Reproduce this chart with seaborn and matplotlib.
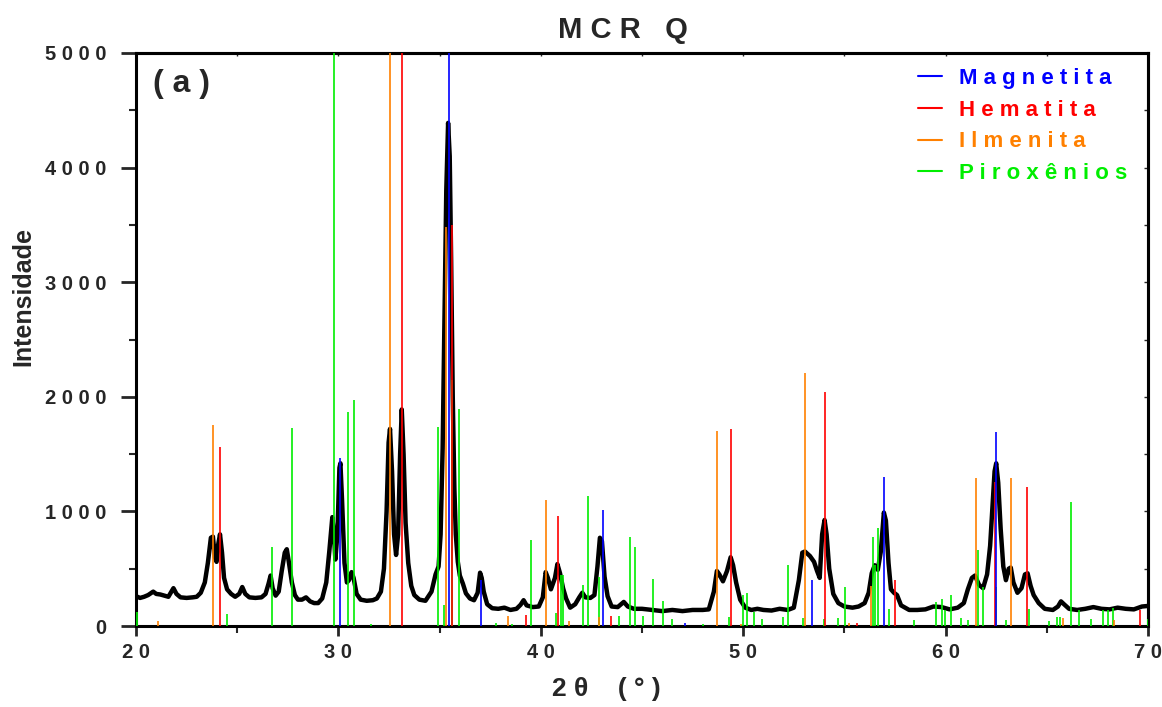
import matplotlib
matplotlib.use("Agg")
import matplotlib.pyplot as plt
import seaborn as sns
import pandas as pd
from matplotlib.lines import Line2D
from matplotlib.ticker import MultipleLocator

# ---- XRD pattern ----
two_theta = [20.0, 20.2, 20.4, 20.6, 20.85, 21.0, 21.2, 21.4, 21.6, 21.85, 22.0, 22.2, 22.5, 22.8,
             23.0, 23.2, 23.4, 23.55, 23.7, 23.8, 23.9, 23.98, 24.05, 24.15, 24.25, 24.35, 24.5,
             24.7, 24.9, 25.1, 25.25, 25.4, 25.6, 25.9, 26.2, 26.4, 26.55, 26.65, 26.75, 26.9,
             27.05, 27.2, 27.35, 27.45, 27.55, 27.7, 27.85, 28.0, 28.2, 28.4, 28.6, 28.8, 29.0,
             29.2, 29.4, 29.55, 29.7, 29.78, 29.85, 29.95, 30.05, 30.1, 30.18, 30.3, 30.42, 30.52,
             30.65, 30.75, 30.9, 31.1, 31.4, 31.7, 31.9, 32.1, 32.25, 32.38, 32.48, 32.55, 32.65,
             32.75, 32.85, 32.95, 33.05, 33.13, 33.22, 33.32, 33.45, 33.6, 33.75, 34.0, 34.3, 34.6,
             34.8, 34.95, 35.05, 35.15, 35.25, 35.33, 35.42, 35.5, 35.57, 35.65, 35.73, 35.8, 35.9,
             36.0, 36.15, 36.3, 36.5, 36.7, 36.88, 37.0, 37.08, 37.18, 37.35, 37.6, 37.9, 38.2,
             38.5, 38.8, 39.0, 39.15, 39.3, 39.6, 39.9, 40.1, 40.24, 40.35, 40.5, 40.7, 40.82,
             40.95, 41.1, 41.25, 41.45, 41.7, 41.9, 42.05, 42.2, 42.45, 42.65, 42.8, 42.92, 43.02,
             43.15, 43.3, 43.5, 43.8, 44.1, 44.3, 44.6, 45.0, 45.5, 46.0, 46.5, 47.0, 47.5, 48.0,
             48.3, 48.55, 48.7, 48.82, 49.0, 49.2, 49.38, 49.5, 49.65, 49.85, 50.1, 50.4, 50.7,
             51.0, 51.4, 51.8, 52.2, 52.5, 52.75, 52.92, 53.05, 53.3, 53.5, 53.65, 53.78, 53.9,
             54.02, 54.12, 54.25, 54.45, 54.7, 55.0, 55.4, 55.7, 56.0, 56.2, 56.35, 56.5, 56.65,
             56.8, 56.95, 57.05, 57.18, 57.3, 57.45, 57.6, 57.8, 58.2, 58.6, 59.0, 59.4, 59.8,
             60.2, 60.6, 60.9, 61.1, 61.3, 61.45, 61.65, 61.85, 62.05, 62.2, 62.32, 62.42, 62.5,
             62.6, 62.72, 62.85, 62.98, 63.12, 63.22, 63.35, 63.55, 63.75, 63.92, 64.05, 64.2,
             64.35, 64.6, 64.9, 65.3, 65.55, 65.7, 65.85, 66.1, 66.5, 66.9, 67.3, 67.7, 68.1,
             68.5, 68.9, 69.3, 69.7, 70.0]
intensity = [260, 245, 255, 270, 300, 280, 275, 265, 255, 330, 280, 250, 245, 250,
             255, 290, 380, 550, 770, 780, 600, 560, 700, 800, 640, 420, 320,
             280, 255, 280, 340, 280, 250, 245, 250, 280, 370, 440, 330, 265,
             300, 480, 640, 670, 560, 380, 270, 230, 230, 250, 215, 200, 200,
             240, 380, 650, 950, 800, 580, 800, 1380, 1420, 1100, 550, 380, 400,
             470, 420, 280, 230, 220, 225, 240, 300, 500, 1000, 1600, 1720, 1350,
             800, 620, 800, 1500, 1890, 1500, 900, 550, 350, 270, 230, 220, 300,
             450, 520, 800, 1550, 2800, 3800, 4390, 4100, 3200, 2000, 1200, 800, 560,
             440, 370, 285, 240, 225, 290, 465, 420, 300, 190, 155, 150, 160,
             140, 150, 185, 225, 180, 165, 170, 250, 470, 420, 320, 420, 540,
             460, 330, 240, 160, 190, 250, 290, 250, 245, 270, 520, 770, 740,
             430, 260, 170, 165, 210, 170, 150, 150, 140, 130, 140, 130, 140, 140,
             145, 300, 480, 450, 390, 480, 600, 530, 380, 230, 160, 140, 150,
             140, 135, 150, 140, 160, 400, 640, 650, 610, 560, 480, 420, 800,
             925, 800, 500, 280, 200, 170, 160, 170, 200, 290, 460, 530, 490,
             650, 990, 920, 550, 320, 290, 270, 180, 140, 140, 145, 170, 165,
             145, 160, 200, 320, 420, 440, 360, 330, 450, 700, 1050, 1350, 1420,
             1250, 850, 520, 400, 500, 510, 380, 290, 330, 450, 460, 350,
             270, 200, 150, 140, 170, 215, 190, 150, 140, 150, 165, 150, 145,
             160, 150, 145, 170, 175]

# ---- reference stick patterns ----
mag_pos = [30.1, 35.45, 37.05, 43.05, 47.1, 53.38, 56.97, 62.5]
mag_int = [1470, 5000, 400, 1010, 30, 400, 1300, 1690]

hem_pos = [24.15, 33.15, 35.6, 39.25, 40.85, 43.47, 49.42, 54.02, 55.6, 57.5, 62.45, 64.0, 69.6]
hem_int = [1560, 5000, 3500, 100, 960, 90, 1720, 2040, 30, 400, 1260, 1210, 140]

ilm_pos = [21.07, 23.8, 32.55, 35.3, 38.36, 40.27, 41.4, 42.9, 48.7, 49.9, 53.05, 55.25, 56.3,
           61.5, 63.22, 65.8, 68.3]
ilm_int = [40, 1750, 5000, 3480, 90, 1100, 40, 80, 1700, 20, 2210, 30, 350,
           1290, 1290, 70, 50]

pir_pos = [20.05, 24.48, 26.7, 27.71, 29.77, 30.46, 30.79, 31.6, 34.94, 35.22, 35.6, 35.96,
           37.8, 38.6, 39.52, 40.75, 41.0, 41.11, 42.07, 42.32, 42.86, 43.86, 44.41, 44.65,
           45.06, 45.56, 46.02, 46.47, 48.0, 49.28, 49.97, 50.17, 50.53, 50.93, 51.95, 52.21,
           52.94, 53.99, 54.68, 55.01, 56.4, 56.51, 56.65, 57.19, 58.44, 59.53, 59.82, 59.95,
           60.27, 60.76, 61.1, 61.62, 61.83, 62.49, 63.0, 64.12, 65.1, 65.49, 65.65, 66.18,
           66.6, 67.17, 67.79, 68.04, 68.29, 69.98]
pir_int = [120, 105, 690, 1725, 5000, 1865, 1972, 20, 1740, 180, 2150, 1890,
           25, 15, 750, 110, 445, 445, 358, 1134, 430, 87, 774, 692,
           87, 407, 218, 64, 20, 80, 270, 285, 125, 58, 76, 532,
           73, 64, 70, 337, 774, 532, 852, 151, 55, 206, 232, 140,
           267, 73, 52, 663, 337, 337, 55, 151, 44, 76, 76, 1085,
           140, 58, 140, 140, 154, 58]

phase_names = ["M a g n e t i t a", "H e m a t i t a", "I l m e n i t a", "P i r o x ê n i o s"]
phase_colors = ["#0000FF", "#FF0000", "#FF8000", "#00EE00"]

x_ticks = [20, 30, 40, 50, 60, 70]
x_tick_labels = ["2 0", "3 0", "4 0", "5 0", "6 0", "7 0"]
y_ticks = [0, 1000, 2000, 3000, 4000, 5000]
y_tick_labels = ["0", "1 0 0 0", "2 0 0 0", "3 0 0 0", "4 0 0 0", "5 0 0 0"]

sns.set_theme(style="white")
plt.rcParams["font.family"] = ["Liberation Sans", "DejaVu Sans"]
plt.rcParams["font.weight"] = "bold"

fig = plt.figure(figsize=(11.62, 7.07), dpi=100)
ax = fig.add_axes([136 / 1162, 1 - 626 / 707, (1148 - 136) / 1162, (626 - 53) / 707])

df = pd.DataFrame({"two_theta": two_theta, "intensity": intensity})
sns.lineplot(data=df, x="two_theta", y="intensity", ax=ax, color="black",
             linewidth=3.2, zorder=2, sort=False)

sticks = [(pir_pos, pir_int, phase_colors[3]),
          (ilm_pos, ilm_int, phase_colors[2]),
          (hem_pos, hem_int, phase_colors[1]),
          (mag_pos, mag_int, phase_colors[0])]
for pos, val, col in sticks:
    ax.vlines(pos, 0, val, colors=col, linewidth=1.2, zorder=3)

ax.set_xlim(20, 70)
ax.set_ylim(0, 5000)
ax.set_xticks(x_ticks)
ax.set_xticklabels(x_tick_labels, fontsize=14.5, fontweight="bold")
ax.set_yticks(y_ticks)
ax.set_yticklabels(y_tick_labels, fontsize=14.5, fontweight="bold")
ax.xaxis.set_minor_locator(MultipleLocator(5))
ax.yaxis.set_minor_locator(MultipleLocator(500))
ax.tick_params(axis="y", which="major", direction="out", length=11, width=2, pad=10, left=True)
ax.tick_params(axis="y", which="minor", direction="out", length=5, width=1.5, left=True)
ax.tick_params(axis="x", which="major", direction="out", length=7, width=2, pad=5, bottom=True)
ax.tick_params(axis="x", which="minor", direction="out", length=5, width=1.5, bottom=True)
ax.set_xlabel("")
ax.set_ylabel("")
for s in ax.spines.values():
    s.set_linewidth(2.2)
    s.set_color("black")
    s.set_visible(True)

sec_y = ax.secondary_yaxis("right")
sec_y.set_yticks([500 * i for i in range(11)])
sec_y.tick_params(direction="in", length=3, width=1, labelright=False)
sec_y.spines["right"].set_linewidth(2.2)
sec_x = ax.secondary_xaxis("top")
sec_x.set_xticks([20 + 5 * i for i in range(11)])
sec_x.tick_params(direction="in", length=2, width=1, labeltop=False)
sec_x.spines["top"].set_linewidth(2.2)

handles = [Line2D([0], [0], color=c, linewidth=1.5) for c in phase_colors]
leg = ax.legend(handles, phase_names, loc="upper left",
                bbox_to_anchor=((918 - 136) / 1012, (626 - 68) / 573),
                frameon=False, fontsize=16, handlelength=1.1, handletextpad=0.75,
                labelspacing=0.48, borderpad=0, borderaxespad=0,
                prop={"weight": "bold", "size": 16})
for txt, c in zip(leg.get_texts(), phase_colors):
    txt.set_color(c)

ax.text((153 - 136) / 1012, (626 - 84) / 573, "( a )", transform=ax.transAxes,
        fontsize=23, fontweight="bold", ha="left", va="center")

fig.text(623 / 1162, 1 - 30 / 707, "M C R   Q", fontsize=21, fontweight="bold",
         ha="center", va="center")
fig.text(23 / 1162, 1 - 296 / 707, "Intensidade", fontsize=18, fontweight="bold",
         rotation=90, ha="center", va="center")
fig.text(606 / 1162, 1 - 689 / 707, "2 θ    ( ° )", fontsize=19, fontweight="bold",
         ha="center", va="center")

fig.savefig("out.png", dpi=100, facecolor="white")
